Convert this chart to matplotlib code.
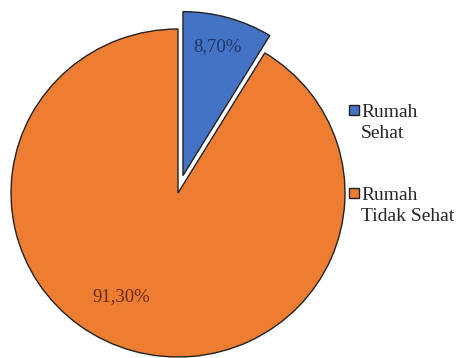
import matplotlib.pyplot as plt
from matplotlib.patches import Rectangle

categories = ["Rumah\nSehat", "Rumah\nTidak Sehat"]
shares = [8.70, 91.30]
colors = ["#4472C4", "#ED7D31"]
label_colors = ["#1F3864", "#6B2A0A"]

W, H = 463, 358
fig = plt.figure(figsize=(W / 100, H / 100), dpi=100)

# pie centre and radii in pixels (slightly wider than tall)
cx, cy = 178, H - 193
rx, ry = 167, 164
lim = 1.2
ax = fig.add_axes([(cx - lim * rx) / W, (cy - lim * ry) / H,
                   2 * lim * rx / W, 2 * lim * ry / H])

wedges, texts, autotexts = ax.pie(
    shares, colors=colors, explode=[0.11, 0], startangle=90,
    counterclock=False, autopct=lambda p: f"{p:.2f}%".replace(".", ","),
    pctdistance=0.8,
    wedgeprops=dict(edgecolor="#222222", linewidth=1.0),
    textprops=dict(family="Liberation Serif", fontsize=13.5))
ax.set_aspect("auto")
ax.set_xlim(-lim, lim)
ax.set_ylim(-lim, lim)
ax.axis("off")

for t, c in zip(autotexts, label_colors):
    t.set_color(c)
autotexts[0].set_position((0.235, 0.89))
autotexts[1].set_position((-0.34, -0.63))

# legend drawn by hand: square + two-line label
legend_y = [H - 110, H - 193]
for (lbl, col, y) in zip(categories, colors, legend_y):
    fig.patches.append(Rectangle((349 / W, (y - 5) / H), 10 / W, 10 / H,
                                 transform=fig.transFigure, facecolor=col,
                                 edgecolor="#222222", linewidth=1.0))
    fig.text(361 / W, (y + 6) / H, lbl, ha="left", va="top",
             family="Liberation Serif", fontsize=14, color="#262626",
             linespacing=1.32)

fig.savefig("out.png", dpi=100, facecolor="white")
